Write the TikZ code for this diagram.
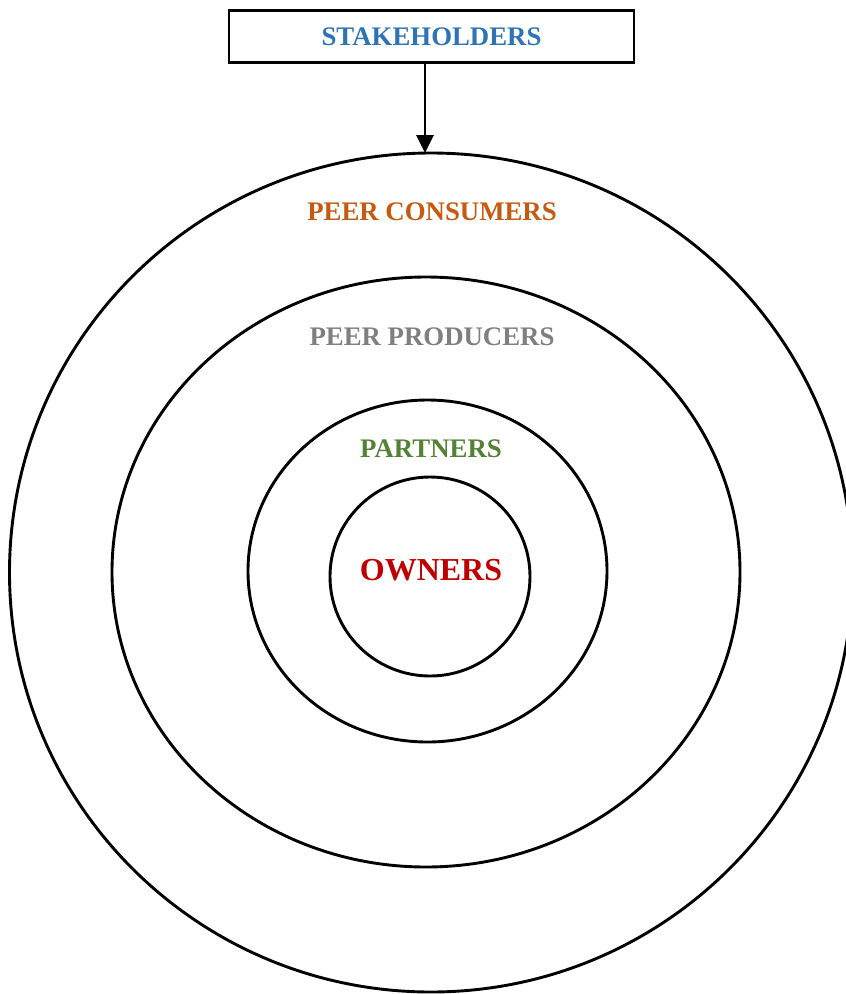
\documentclass[tikz,border=0pt]{standalone}
\usepackage{fontspec}
\setmainfont{Liberation Serif}
\usetikzlibrary{shapes.geometric,arrows.meta}
\definecolor{skblue}{HTML}{2E74B5}
\definecolor{consorange}{HTML}{C55A11}
\definecolor{prodgrey}{HTML}{7F7F7F}
\definecolor{partgreen}{HTML}{538135}
\definecolor{ownred}{HTML}{C00000}
\tikzset{
  ring/.style={draw=black, line width=2.9pt, ellipse, inner sep=0pt, outer sep=0pt},
  lbl/.style={font=\bfseries\fontsize{26.8}{30}\selectfont, inner sep=0pt},
  topbox/.style={draw=black, line width=2.7pt, minimum width=405pt, minimum height=52pt, inner sep=0pt},
  link/.style={line width=2.7pt, -{Triangle[length=18pt,width=17pt]}}
}
\begin{document}
\begin{tikzpicture}[x=1pt,y=-1pt]
  \useasboundingbox (0,0) rectangle (846,994);
  % concentric rings
  \node[ring, minimum width=843pt, minimum height=839pt] (outer) at (431,572.5) {};
  \node[ring, minimum width=628pt, minimum height=590pt] (second) at (426,572) {};
  \node[ring, minimum width=359pt, minimum height=342pt] (third) at (427.5,571) {};
  \node[ring, minimum width=200pt, minimum height=199pt] (inner) at (430,576.5) {};
  % heading box
  \node[topbox, lbl, text=skblue] (box) at (431.5,36.5) {STAKEHOLDERS};
  % ring labels
  \node[lbl, text=consorange] (cons) at (432,212) {PEER CONSUMERS};
  \node[lbl, text=prodgrey] (prod) at (432,337) {PEER PRODUCERS};
  \node[lbl, text=partgreen] (part) at (431,449) {PARTNERS};
  \node[lbl, text=ownred, font=\bfseries\fontsize{32}{36}\selectfont] (own) at (431,570) {OWNERS};
  % arrow into the outer ring
  \coordinate (hit) at (425,153);
  \draw[link] (hit |- box.south) -- (hit);
\end{tikzpicture}
\end{document}
